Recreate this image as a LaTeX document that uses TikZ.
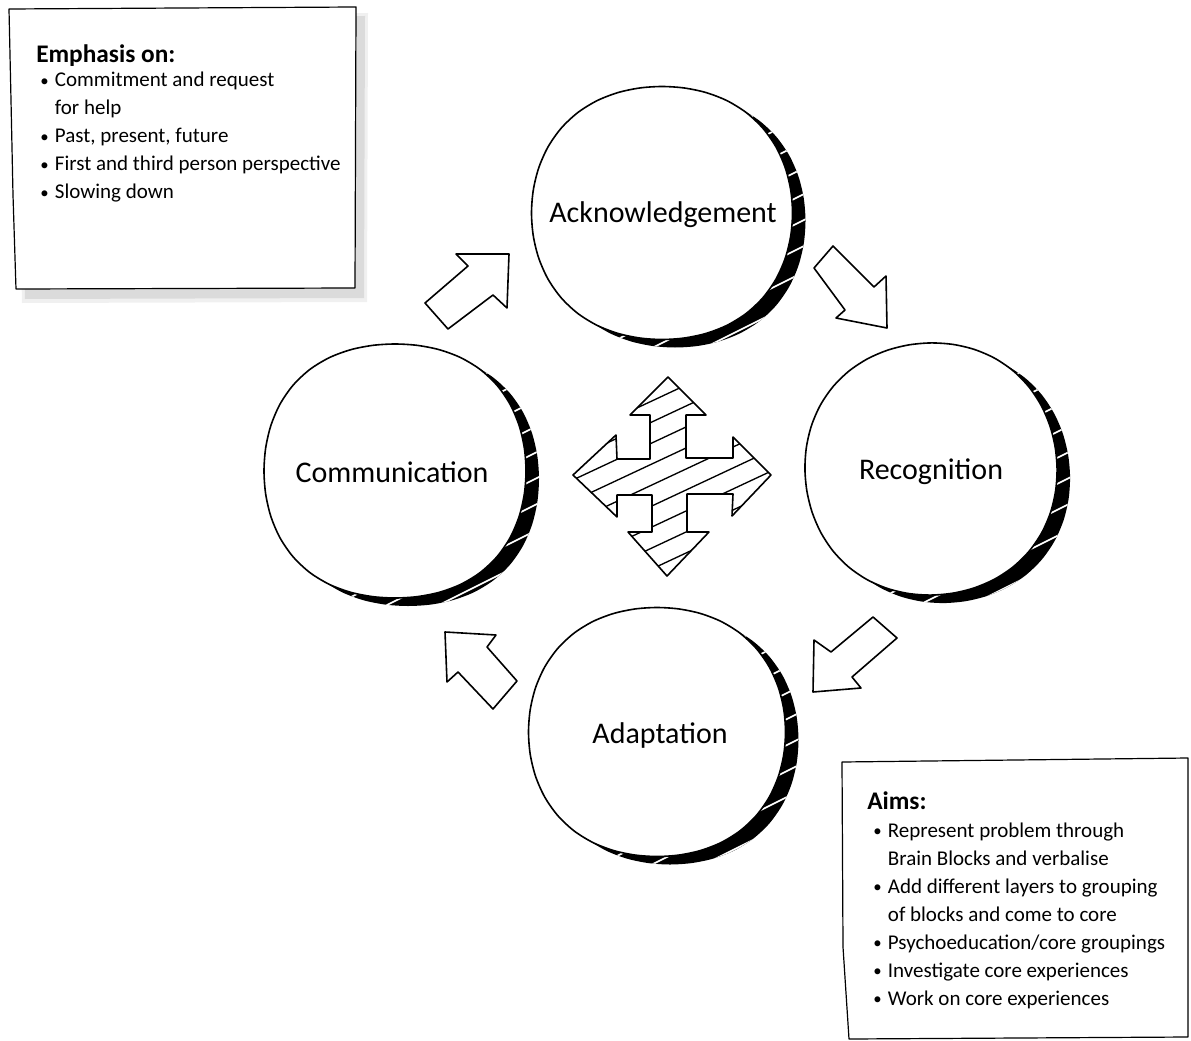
\documentclass[tikz,border=0pt]{standalone}
\usepackage{fontspec}
\setmainfont{Carlito}
\usepackage{graphicx}
\usepackage{tikz}

\tikzset{
	sketch/.style={line width=1.2pt, line join=round, line cap=round},
	boxline/.style={line width=0.9pt, line join=round},
	hatch/.style={line width=1pt},
	gap/.style={white, line width=1.3pt},
	blob/.style={smooth cycle, domain=0:350, samples=36},
	circletext/.style={inner sep=0pt, font=\fontsize{22.5}{27}\selectfont},
	boxhead/.style={anchor=base west, inner sep=0pt, font=\bfseries\fontsize{19}{23}\selectfont},
	boxtext/.style={anchor=base west, inner sep=0pt, font=\fontsize{15.75}{19}\selectfont}
}

\newcommand{\bul}{\makebox[12.5pt][l]{\hspace{1.5pt}\raisebox{0.6pt}{\scalebox{0.8}{\textbullet}}}}
\newcommand{\nobul}{\hspace*{12.5pt}}

\newcommand{\sketchcircle}[2]{%
	\begin{scope}[shift={(#1)}]
		\fill[black, shift={(13,8)}] plot[blob] (\x:{#2});
		\begin{scope}
			\clip[shift={(13,8)}] plot[blob] (\x:{#2});
			\foreach \k in {-4,...,9}
				\draw[gap] (-170,{\k*26+85}) -- (170,{\k*26-85});
		\end{scope}
		\filldraw[sketch, fill=white] plot[blob] (\x:{#2});
	\end{scope}}

\newcommand{\crosspath}{(668,377) -- (706,415) -- (686,415) -- (686,458) -- (733,458) -- (733,437) -- (771,475) -- (732,516) -- (733,494) -- (687,494) -- (687,532) -- (709,532) -- (667,576) -- (628,532) -- (652,532) -- (652,495) -- (617,495) -- (617,517) -- (573,475) -- (616,435) -- (617,459) -- (650,459) -- (650,415) -- (630,415) -- cycle}

\begin{document}
\begin{tikzpicture}[x=0.75pt,y=-0.75pt]
	\useasboundingbox (0,0) rectangle (1191,1041);

	\fill[black!6] (16,16) -- (368,13) -- (367,302) -- (22,303) -- cycle;
	\fill[black!14] (18,18) -- (365,16) -- (364,298) -- (25,299) -- cycle;
	\filldraw[boxline, fill=white] (9,9) -- (356,7) -- (355,288) -- (16,289) -- (13,195) -- (11,100) -- cycle;
	\filldraw[boxline, fill=white] (842,762) -- (1188,758) -- (1188,1037) -- (849,1039) -- (843,947) -- cycle;

	\node[boxhead] (emph-0) at (36,63) {Emphasis on:};
	\foreach \txt [count=\i] in {\bul Commitment and request, \nobul for help, {\bul Past, present, future}, \bul First and third person perspective, \bul Slowing down}
		\node[boxtext] (emph-\i) at (38,{59+28*\i}) {\txt};

	\node[boxhead] (aims-0) at (867,809) {Aims:};
	\foreach \txt [count=\i] in {\bul Represent problem through, \nobul Brain Blocks and verbalise, \bul Add different layers to grouping, \nobul of blocks and come to core, \bul Psychoeducation/core groupings, \bul Investigate core experiences, \bul Work on core experiences}
		\node[boxtext] (aims-\i) at (871,{809+28*\i}) {\txt};

	\sketchcircle{662,213}{130+2*cos(2*\x)-1.5*cos(4*\x)}
	\sketchcircle{395,471}{131+2*cos(2*\x)-2*cos(4*\x)}
	\sketchcircle{931,469}{127-1*cos(4*\x+20)}
	\sketchcircle{657,732}{128+2*cos(2*\x)-1.5*cos(4*\x)}

	\node[circletext] (ack) at (663,215) {Acknowledgement};
	\node[circletext] (com) at (392,472) {Communication};
	\node[circletext] (rec) at (931,472) {Recognition};
	\node[circletext] (adp) at (660,735) {Adaptation};

	\draw[sketch] (509,254) -- (507,308) -- (493,295) -- (448,329) -- (425,303) -- (468,266) -- (456,254) -- cycle;
	\draw[sketch] (887,328) -- (836,318) -- (845,310) -- (814,268) -- (833,246) -- (874,287) -- (886,276) -- cycle;
	\draw[sketch] (813,692) -- (814,640) -- (831,652) -- (873,617) -- (897,638) -- (852,677) -- (861,688) -- cycle;
	\draw[sketch] (445,632) -- (496,635) -- (487,647) -- (517,681) -- (493,709) -- (458,672) -- (447,682) -- cycle;

	\begin{scope}
		\clip \crosspath;
		\foreach \k in {-6,...,6}
			\draw[hatch] (560,{528+21*\k}) -- (780,{425+21*\k});
	\end{scope}
	\draw[sketch] \crosspath;
\end{tikzpicture}
\end{document}
